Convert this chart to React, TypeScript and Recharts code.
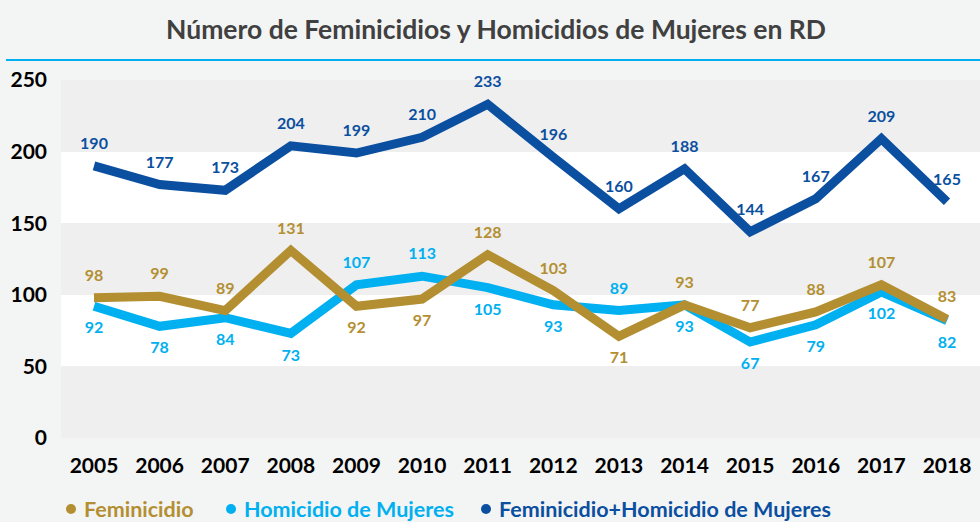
import { LineChart, Line, XAxis, YAxis, CartesianGrid, LabelList } from 'recharts';

const YEARS = ['2005', '2006', '2007', '2008', '2009', '2010', '2011', '2012', '2013', '2014', '2015', '2016', '2017', '2018'];
const FEMINICIDIO = [98, 99, 89, 131, 92, 97, 128, 103, 71, 93, 77, 88, 107, 83];
const HOMICIDIO = [92, 78, 84, 73, 107, 113, 105, 93, 89, 93, 67, 79, 102, 82];
const TOTAL = [190, 177, 173, 204, 199, 210, 233, 196, 160, 188, 144, 167, 209, 165];
const Y_TICKS = [0, 50, 100, 150, 200, 250];

const GOLD = '#b38f32';
const SKY = '#00b0f0';
const NAVY = '#0b4fa0';
const FONT = 'Lato, "Open Sans", sans-serif';

const data = YEARS.map((year, i) => ({
  year,
  fem: FEMINICIDIO[i],
  hom: HOMICIDIO[i],
  total: TOTAL[i],
}));

// la serie más alta lleva la etiqueta arriba, la otra abajo
const makeLabel = (color: string, above: (i: number) => boolean) => (props: any) => {
  const { x, y, value, index } = props;
  const up = above(index);
  return (
    <text
      x={x}
      y={up ? y - 21 : y + 23}
      textAnchor="middle"
      dominantBaseline="middle"
      fill={color}
      fontSize={16}
      fontWeight={700}
      fontFamily={FONT}
    >
      {value}
    </text>
  );
};

const legendItems = [
  { name: 'Feminicidio', color: GOLD, left: 66 },
  { name: 'Homicidio de Mujeres', color: SKY, left: 226 },
  { name: 'Feminicidio+Homicidio de Mujeres', color: NAVY, left: 481 },
];

export default function App() {
  return (
    <div
      style={{
        position: 'fixed',
        left: 0,
        top: 0,
        width: 980,
        height: 522,
        background: '#f3f4f4',
        fontFamily: FONT,
        overflow: 'hidden',
      }}
    >
      <div
        style={{
          position: 'absolute',
          top: 13,
          left: 0,
          width: 992,
          textAlign: 'center',
          fontSize: 26.5,
          fontWeight: 700,
          color: '#404040',
        }}
      >
        Número de Feminicidios y Homicidios de Mujeres en RD
      </div>
      <div style={{ position: 'absolute', top: 59, left: 6, width: 974, height: 2, background: SKY }} />

      <LineChart width={980} height={522} data={data} margin={{ top: 80, right: 0, bottom: 39, left: 0 }}>
        <CartesianGrid
          vertical={false}
          horizontal
          stroke="none"
          fill="none"
          horizontalFill={['#efefef', '#ffffff']}
          syncWithTicks
        />
        <XAxis
          dataKey="year"
          axisLine={false}
          tickLine={false}
          tickSize={0}
          tickMargin={20}
          height={45}
          padding={{ left: 33, right: 33 }}
          tick={{ fill: '#000', fontSize: 21, fontWeight: 700, fontFamily: FONT }}
          interval={0}
        />
        <YAxis
          domain={[0, 250]}
          ticks={Y_TICKS}
          width={61}
          axisLine={false}
          tickLine={false}
          tickSize={0}
          tickMargin={14}
          tick={{ fill: '#000', fontSize: 21, fontWeight: 700, fontFamily: FONT }}
          interval={0}
        />
        <Line type="linear" dataKey="hom" stroke={SKY} strokeWidth={9} dot={false} isAnimationActive={false}>
          <LabelList dataKey="hom" content={makeLabel(SKY, (i) => HOMICIDIO[i] > FEMINICIDIO[i])} />
        </Line>
        <Line type="linear" dataKey="fem" stroke={GOLD} strokeWidth={9} dot={false} isAnimationActive={false}>
          <LabelList dataKey="fem" content={makeLabel(GOLD, (i) => FEMINICIDIO[i] >= HOMICIDIO[i])} />
        </Line>
        <Line type="linear" dataKey="total" stroke={NAVY} strokeWidth={9} dot={false} isAnimationActive={false}>
          <LabelList dataKey="total" content={makeLabel(NAVY, () => true)} />
        </Line>
      </LineChart>

      {legendItems.map((item) => (
        <div
          key={item.name}
          style={{
            position: 'absolute',
            top: 496,
            left: item.left,
            display: 'flex',
            alignItems: 'center',
            fontSize: 21.5,
            fontWeight: 700,
            color: item.color,
            whiteSpace: 'nowrap',
          }}
        >
          <span
            style={{
              display: 'inline-block',
              width: 10,
              height: 10,
              borderRadius: '50%',
              background: item.color,
              marginRight: 8,
            }}
          />
          {item.name}
        </div>
      ))}
    </div>
  );
}
